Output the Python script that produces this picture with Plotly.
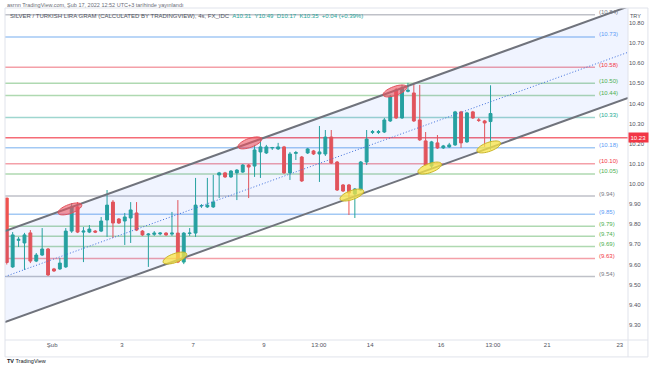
import math
import plotly.graph_objects as go

# ---------------- data ----------------
bar_index = list(range(83))
opens = [9.93, 9.588, 9.720, 9.707, 9.757, 9.617, 9.647, 9.677, 9.578, 9.578,
         9.588, 9.766, 9.886, 9.761, 9.761, 9.766, 9.766, 9.821, 9.910, 9.826,
         9.816, 9.831, 9.856, 9.766, 9.747, 9.750, 9.752, 9.756, 9.751, 9.756,
         9.612, 9.754, 9.756, 9.891, 9.886, 9.886, 10.045, 10.055, 10.035, 10.055,
         10.059, 10.094, 10.089, 10.159, 10.154, 10.179, 10.174, 10.184, 10.055, 10.152,
         10.134, 10.154, 10.164, 10.149, 10.149, 10.233, 10.109, 9.995, 9.995, 9.950,
         9.970, 10.109, 10.256, 10.256, 10.258, 10.313, 10.467, 10.328, 10.460, 10.452,
         10.318, 10.214, 10.089, 10.204, 10.179, 10.184, 10.194, 10.358, 10.209, 10.358,
         10.318, 10.313, 10.31]
highs = [9.93, 9.761, 9.737, 9.757, 9.771, 9.657, 9.781, 9.682, 9.583, 9.632,
         9.781, 9.905, 9.910, 9.786, 9.796, 9.771, 9.836, 9.970, 9.920, 9.831,
         9.856, 9.910, 9.910, 9.771, 9.756, 9.766, 9.761, 9.761, 9.861, 9.920,
         9.761, 9.781, 10.030, 9.900, 10.030, 10.045, 10.060, 10.060, 10.069, 10.074,
         10.099, 10.099, 10.194, 10.219, 10.194, 10.184, 10.204, 10.189, 10.159, 10.164,
         10.139, 10.179, 10.169, 10.288, 10.268, 10.268, 10.114, 10.000, 10.000, 9.980,
         10.114, 10.268, 10.268, 10.268, 10.328, 10.442, 10.477, 10.492, 10.502, 10.502,
         10.492, 10.258, 10.214, 10.243, 10.194, 10.204, 10.363, 10.363, 10.358, 10.363,
         10.328, 10.318, 10.49]
lows = [9.60, 9.583, 9.687, 9.573, 9.607, 9.612, 9.642, 9.543, 9.563, 9.573,
        9.583, 9.757, 9.756, 9.612, 9.756, 9.756, 9.761, 9.737, 9.732, 9.801,
        9.697, 9.707, 9.766, 9.742, 9.588, 9.742, 9.745, 9.742, 9.742, 9.607,
        9.602, 9.742, 9.737, 9.881, 9.881, 9.881, 9.930, 10.030, 10.030, 9.920,
        10.055, 9.930, 10.035, 10.030, 10.149, 10.169, 10.169, 10.050, 10.020, 10.119,
        10.010, 10.149, 10.144, 10.010, 10.139, 10.099, 9.965, 9.960, 9.846, 9.831,
        9.965, 10.094, 10.248, 10.248, 10.253, 10.308, 10.323, 10.323, 10.455, 10.308,
        10.214, 10.089, 10.079, 10.174, 10.174, 10.179, 10.189, 10.179, 10.204, 10.323,
        10.308, 10.184, 10.17]
closes = [9.61, 9.747, 9.725, 9.747, 9.617, 9.647, 9.677, 9.548, 9.568, 9.607,
          9.766, 9.886, 9.761, 9.766, 9.776, 9.761, 9.816, 9.895, 9.806, 9.806,
          9.836, 9.871, 9.771, 9.747, 9.751, 9.756, 9.756, 9.747, 9.756, 9.612,
          9.756, 9.756, 9.895, 9.893, 9.895, 9.910, 10.055, 10.035, 10.064, 10.069,
          10.094, 10.084, 10.169, 10.184, 10.184, 10.181, 10.184, 10.055, 10.149, 10.156,
          10.015, 10.174, 10.149, 10.159, 10.233, 10.104, 9.970, 9.965, 9.955, 9.975,
          10.109, 10.223, 10.260, 10.260, 10.318, 10.432, 10.328, 10.477, 10.465, 10.313,
          10.219, 10.094, 10.209, 10.179, 10.189, 10.194, 10.358, 10.204, 10.353, 10.328,
          10.316, 10.303, 10.35]

tick_positions = [7.7, 19.5, 31.6, 43.6, 52.9, 61.6, 73.6, 82.4, 91.6, 103.9]
tick_labels = ["Şub", "3", "7", "9", "13:00", "14", "16", "13:00", "21", "23"]

price_ticks = [9.3, 9.4, 9.5, 9.6, 9.7, 9.8, 9.9, 10.0, 10.1, 10.2, 10.3, 10.4, 10.5, 10.6, 10.7, 10.8]

level_prices = [10.84, 10.73, 10.58, 10.50, 10.44, 10.33, 10.18, 10.10, 10.05,
                9.94, 9.85, 9.79, 9.74, 9.69, 9.63, 9.54]
level_kinds = ["gray", "blue", "red", "green", "green", "teal", "blue", "red", "green",
               "gray", "blue", "green", "green", "green", "red", "gray"]
current_level = 10.23

channel_x = [-0.3, 105.3]
channel_upper = [9.766, 10.881]
channel_lower = [9.314, 10.427]

red_marks_x = [10.7, 41.2, 65.8]
red_marks_y = [9.876, 10.204, 10.462]
yellow_marks_x = [28.5, 58.5, 71.7, 81.7]
yellow_marks_y = [9.632, 9.945, 10.079, 10.184]

# ---------------- styling ----------------
FONT = "Liberation Sans"
line_colors = {"gray": "#bfc1c8", "blue": "#a3c9f4", "red": "#f4a0a8",
               "green": "#afd9b1", "teal": "#9fd6cf"}
label_colors = {"gray": "#787b86", "blue": "#5b9cf6", "red": "#f23645",
                "green": "#4caf50", "teal": "#22ab94"}

X_RANGE = [-0.3, 105.3]
Y_RANGE = [9.225, 10.874]
PX_PER_X = 623 / (X_RANGE[1] - X_RANGE[0])
PX_PER_Y = 332 / (Y_RANGE[1] - Y_RANGE[0])

fig = go.Figure()

# channel fill + lines
fig.add_trace(go.Scatter(x=channel_x, y=channel_lower, mode="lines",
                         line=dict(color="#70737c", width=2), hoverinfo="skip",
                         showlegend=False))
fig.add_trace(go.Scatter(x=channel_x, y=channel_upper, mode="lines",
                         line=dict(color="#70737c", width=2), fill="tonexty",
                         fillcolor="rgba(41,98,255,0.07)", hoverinfo="skip",
                         showlegend=False))
channel_mid = [(a + b) / 2 for a, b in zip(channel_upper, channel_lower)]
fig.add_trace(go.Scatter(x=channel_x, y=channel_mid, mode="lines",
                         line=dict(color="#3f6fdc", width=1, dash="1px,2px"),
                         hoverinfo="skip", showlegend=False))

shapes = []
annotations = []

# horizontal levels
for p, k in zip(level_prices, level_kinds):
    shapes.append(dict(type="line", xref="x domain", yref="y", x0=0, x1=0.947,
                       y0=p, y1=p, line=dict(color=line_colors[k], width=1.5),
                       layer="below"))
    annotations.append(dict(x=0.950, xref="x domain", y=p, yref="y",
                            text=f"({p:.2f})", showarrow=False, xanchor="left",
                            yanchor="middle", yshift=2.5,
                            font=dict(family=FONT, size=6, color=label_colors[k])))

shapes.append(dict(type="line", xref="x domain", yref="y", x0=0, x1=1,
                   y0=current_level, y1=current_level,
                   line=dict(color="#f56c77", width=1.5), layer="below"))

# candles
fig.add_trace(go.Candlestick(
    x=bar_index, open=opens, high=highs, low=lows, close=closes,
    increasing=dict(line=dict(color="#26a69a", width=1), fillcolor="#26a69a"),
    decreasing=dict(line=dict(color="#ef5350", width=1), fillcolor="#ef5350"),
    whiskerwidth=0, showlegend=False, hoverinfo="skip"))

# highlight ellipses
def ellipse_path(cx, cy, a=12.5, b=4.5, slope=0.36):
    th = math.atan(slope)
    pts = []
    for i in range(40):
        t = 2 * math.pi * i / 40
        dx = a * math.cos(th) * math.cos(t) - b * math.sin(th) * math.sin(t)
        dy = a * math.sin(th) * math.cos(t) + b * math.cos(th) * math.sin(t)
        pts.append((cx + dx / PX_PER_X, cy + dy / PX_PER_Y))
    return "M " + " L ".join(f"{x:.4f},{y:.5f}" for x, y in pts) + " Z"

for cx, cy in zip(red_marks_x, red_marks_y):
    shapes.append(dict(type="path", xref="x", yref="y", path=ellipse_path(cx, cy),
                       fillcolor="rgba(239,83,96,0.6)",
                       line=dict(color="#e2515c", width=1), layer="above"))
for cx, cy in zip(yellow_marks_x, yellow_marks_y):
    shapes.append(dict(type="path", xref="x", yref="y", path=ellipse_path(cx, cy),
                       fillcolor="rgba(250,230,70,0.75)",
                       line=dict(color="#c9b52a", width=1), layer="above"))

# frame
shapes.append(dict(type="rect", xref="paper", yref="paper", x0=0, x1=1.032,
                   y0=-0.051, y1=1, line=dict(color="#e0e3eb", width=1), layer="above"))
shapes.append(dict(type="line", xref="paper", yref="paper", x0=1, x1=1,
                   y0=-0.051, y1=1, line=dict(color="#e0e3eb", width=1)))
shapes.append(dict(type="line", xref="paper", yref="paper", x0=0, x1=1.032,
                   y0=0, y1=0, line=dict(color="#e0e3eb", width=1)))

# texts
annotations.append(dict(x=0, xref="paper", y=1.009, yref="paper", xanchor="left",
                        yanchor="middle", showarrow=False,
                        text="asrnn TradingView.com, Şub 17, 2022 12:52 UTC+3 tarihinde yayınlandı",
                        font=dict(family=FONT, size=5.5, color="#6a6d78")))
annotations.append(dict(x=0.005, xref="paper", y=0.976, yref="paper", xanchor="left",
                        yanchor="middle", showarrow=False,
                        text=("<span style='color:#50535e'>SILVER / TURKISH LIRA GRAM (CALCULATED BY TRADINGVIEW), 4s, FX_IDC</span>"
                              "  <span style='color:#26a69a'>A10.31  Y10.49  D10.17  K10.35  +0.04 (+0.39%)</span>"),
                        font=dict(family=FONT, size=6)))
annotations.append(dict(x=1.0128, xref="paper", y=0.975, yref="paper", xanchor="center",
                        yanchor="middle", showarrow=False, text="TRY",
                        font=dict(family=FONT, size=5.5, color="#50535e")))
annotations.append(dict(x=1.0, xref="paper", y=current_level, yref="y", xanchor="left",
                        yanchor="middle", showarrow=False, text="10.23",
                        bgcolor="#f23645", borderpad=1.5,
                        font=dict(family=FONT, size=6, color="white")))
annotations.append(dict(x=0, xref="paper", y=-0.063, yref="paper", xanchor="left",
                        yanchor="middle", showarrow=False,
                        text="<b>TV</b> TradingView",
                        font=dict(family=FONT, size=5.5, color="#131722")))

fig.update_layout(
    width=654, height=366,
    margin=dict(l=5, r=26, t=8, b=26),
    paper_bgcolor="white", plot_bgcolor="white",
    shapes=shapes, annotations=annotations,
    showlegend=False, hovermode=False,
    xaxis=dict(range=X_RANGE, rangeslider=dict(visible=False), showgrid=False,
               zeroline=False, showline=False, tickmode="array",
               tickvals=tick_positions, ticktext=tick_labels, ticks="",
               tickfont=dict(family=FONT, size=6, color="#50535e")),
    yaxis=dict(range=Y_RANGE, side="right", showgrid=False, zeroline=False,
               showline=False, tickmode="array", tickvals=price_ticks,
               ticktext=[f"{v:.2f}" for v in price_ticks], ticks="",
               tickfont=dict(family=FONT, size=6, color="#50535e")),
)

fig.write_html("out.html", config={"displayModeBar": False},
               post_script="document.body.style.margin='0';document.body.style.overflow='hidden';")
